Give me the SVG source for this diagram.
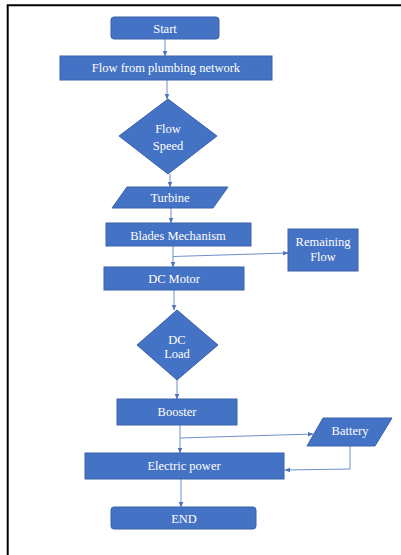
<svg xmlns="http://www.w3.org/2000/svg" width="401" height="555" viewBox="0 0 401 555">
<defs>
<style>
.n{fill:#4472C4;stroke:#3A62AA;stroke-width:1}
.t{font-family:"Liberation Serif","Times New Roman",serif;font-size:12.5px;fill:#fff;text-anchor:middle;dominant-baseline:central}
.c{fill:none;stroke:#6F8FCB;stroke-width:1}
</style>
<marker id="a" viewBox="0 0 10 10" refX="9" refY="5" markerWidth="6" markerHeight="6" orient="auto" markerUnits="userSpaceOnUse">
<path d="M0,1 L10,5 L0,9 z" fill="#4F74BC"/>
</marker>
</defs>
<rect width="401" height="555" fill="#fff"/>
<path d="M7.7,555 V5.3 H401" fill="none" stroke="#000" stroke-width="2"/>
<g id="connectors">
<line class="c" x1="165" y1="39" x2="165" y2="56" marker-end="url(#a)"/>
<line class="c" x1="167" y1="80" x2="167" y2="99" marker-end="url(#a)"/>
<line class="c" x1="170" y1="174" x2="170" y2="187" marker-end="url(#a)"/>
<line class="c" x1="171" y1="208" x2="171" y2="223" marker-end="url(#a)"/>
<line class="c" x1="173" y1="246" x2="173" y2="267" marker-end="url(#a)"/>
<line class="c" x1="173" y1="256.5" x2="288" y2="253" marker-end="url(#a)"/>
<line class="c" x1="174" y1="290" x2="174" y2="310" marker-end="url(#a)"/>
<line class="c" x1="177" y1="380" x2="177" y2="399" marker-end="url(#a)"/>
<line class="c" x1="180" y1="425" x2="180" y2="453" marker-end="url(#a)"/>
<line class="c" x1="180" y1="438" x2="313" y2="434" marker-end="url(#a)"/>
<polyline class="c" points="350,446 350,469 285,470" marker-end="url(#a)"/>
<line class="c" x1="181" y1="479" x2="181" y2="507" marker-end="url(#a)"/>
</g>
<g id="start"><rect class="n" x="111" y="17" width="108" height="22" rx="3"/><text class="t" x="165" y="28.5">Start</text></g>
<g id="flow"><rect class="n" x="60" y="56" width="212" height="24"/><text class="t" x="166" y="68">Flow from plumbing network</text></g>
<g id="speed"><polygon class="n" points="168,99 217,136 168,174 119,136"/><text class="t" x="168" y="129">Flow</text><text class="t" x="168" y="146">Speed</text></g>
<g id="turbine"><polygon class="n" points="127,187 228,187 213,208 112,208"/><text class="t" x="170" y="198">Turbine</text></g>
<g id="blades"><rect class="n" x="106" y="223" width="145" height="23"/><text class="t" x="178" y="235.5">Blades Mechanism</text></g>
<g id="remaining"><rect class="n" x="288" y="229" width="70" height="42"/><text class="t" x="323" y="242">Remaining</text><text class="t" x="323" y="257">Flow</text></g>
<g id="motor"><rect class="n" x="104" y="267" width="140" height="23"/><text class="t" x="174" y="278.5">DC Motor</text></g>
<g id="load"><polygon class="n" points="177,310 218,345 177,380 137,345"/><text class="t" x="177" y="340">DC</text><text class="t" x="177" y="354">Load</text></g>
<g id="booster"><rect class="n" x="117" y="399" width="120" height="26"/><text class="t" x="177" y="412">Booster</text></g>
<g id="battery"><polygon class="n" points="323,418 392,418 375,446 307,446"/><text class="t" x="350" y="431">Battery</text></g>
<g id="power"><rect class="n" x="85" y="453" width="199" height="26"/><text class="t" x="184" y="466">Electric power</text></g>
<g id="end"><rect class="n" x="111" y="507" width="145" height="22" rx="3"/><text class="t" x="184" y="518.5">END</text></g>
</svg>
